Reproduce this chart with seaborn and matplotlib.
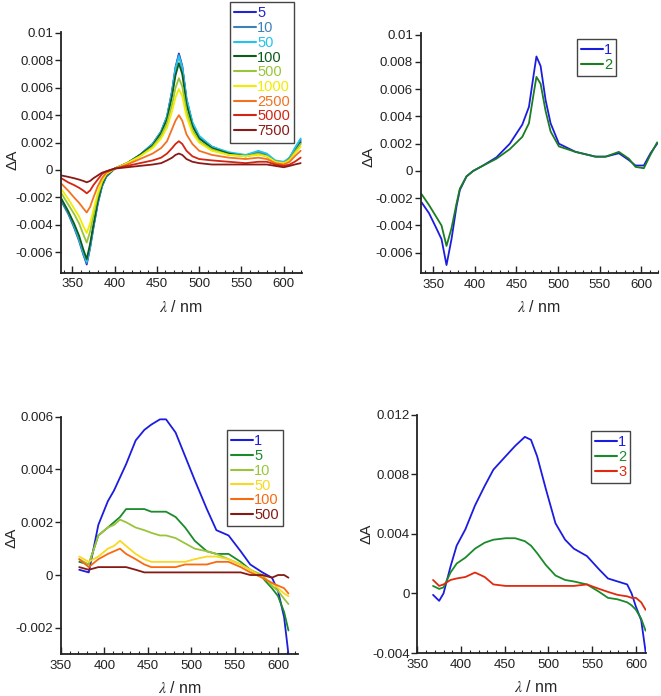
import numpy as np
import pandas as pd
import matplotlib
matplotlib.use("Agg")
import matplotlib.pyplot as plt
from matplotlib.ticker import MultipleLocator
import seaborn as sns

# ---------------- data ----------------
# Panel 1 (top-left)
wl1 = [337, 345, 352, 358, 363, 367, 371, 375, 380, 385, 390, 400, 415, 430, 445, 455, 462,
       468, 472, 476, 480, 485, 492, 500, 515, 535, 555, 570, 580, 590, 600, 607, 613, 620]
p1_labels = ["5", "10", "50", "100", "500", "1000", "2500", "5000", "7500"]
p1_colors = ["#2323d2", "#3f80b5", "#22c4ee", "#0d5c18", "#9ac53a", "#f2ec00", "#f27222", "#d42412", "#8a1a16"]
p1_5 = [-0.0022, -0.0031, -0.0041, -0.0051, -0.0061, -0.0069, -0.0057, -0.0042, -0.0025, -0.0012, -0.0005, 0.0001, 0.0005, 0.0011, 0.0019, 0.0028, 0.0039, 0.0058, 0.0075, 0.0085, 0.0076, 0.0052, 0.0034, 0.0024, 0.0017, 0.0012, 0.0010, 0.0013, 0.0011, 0.0006, 0.0005, 0.0009, 0.0015, 0.0022]
p1_10 = [-0.0023, -0.0032, -0.0042, -0.0052, -0.0062, -0.0068, -0.0056, -0.0041, -0.0024, -0.0012, -0.0005, 0.0001, 0.0005, 0.0011, 0.0019, 0.0028, 0.0039, 0.0057, 0.0074, 0.0084, 0.0075, 0.0051, 0.0034, 0.0024, 0.0017, 0.0012, 0.0010, 0.0013, 0.0011, 0.0006, 0.0005, 0.0008, 0.0014, 0.0021]
p1_50 = [-0.0021, -0.0030, -0.0040, -0.0050, -0.0060, -0.0067, -0.0056, -0.0041, -0.0024, -0.0012, -0.0004, 0.0001, 0.0005, 0.0011, 0.0019, 0.0028, 0.0039, 0.0057, 0.0074, 0.0083, 0.0075, 0.0052, 0.0035, 0.0025, 0.0017, 0.0013, 0.0011, 0.0014, 0.0012, 0.0007, 0.0006, 0.0009, 0.0016, 0.0023]
p1_100 = [-0.0021, -0.0030, -0.0039, -0.0048, -0.0058, -0.0065, -0.0054, -0.0040, -0.0023, -0.0011, -0.0004, 0.0001, 0.0005, 0.0011, 0.0018, 0.0027, 0.0037, 0.0054, 0.0069, 0.0078, 0.0070, 0.0048, 0.0032, 0.0023, 0.0016, 0.0012, 0.0010, 0.0012, 0.0010, 0.0006, 0.0005, 0.0008, 0.0013, 0.0020]
p1_500 = [-0.0017, -0.0025, -0.0032, -0.0039, -0.0047, -0.0053, -0.0045, -0.0033, -0.0019, -0.0009, -0.0003, 0.0001, 0.0005, 0.0010, 0.0017, 0.0025, 0.0034, 0.0048, 0.0060, 0.0067, 0.0061, 0.0043, 0.0029, 0.0021, 0.0015, 0.0011, 0.0010, 0.0012, 0.0010, 0.0006, 0.0005, 0.0008, 0.0013, 0.0019]
p1_1000 = [-0.0014, -0.0021, -0.0028, -0.0034, -0.0041, -0.0046, -0.0039, -0.0029, -0.0017, -0.0008, -0.0003, 0.0001, 0.0005, 0.0010, 0.0016, 0.0023, 0.0031, 0.0043, 0.0053, 0.0059, 0.0054, 0.0039, 0.0027, 0.0020, 0.0014, 0.0011, 0.0010, 0.0011, 0.0010, 0.0006, 0.0005, 0.0007, 0.0012, 0.0017]
p1_2500 = [-0.0010, -0.0015, -0.0020, -0.0024, -0.0028, -0.0031, -0.0027, -0.0020, -0.0012, -0.0006, -0.0002, 0.0001, 0.0004, 0.0008, 0.0012, 0.0016, 0.0021, 0.0030, 0.0036, 0.0040, 0.0036, 0.0026, 0.0019, 0.0014, 0.0011, 0.0009, 0.0008, 0.0009, 0.0008, 0.0005, 0.0004, 0.0006, 0.0010, 0.0014]
p1_5000 = [-0.0006, -0.0009, -0.0011, -0.0013, -0.0015, -0.0017, -0.0015, -0.0011, -0.0007, -0.0003, -0.0001, 0.0001, 0.0003, 0.0005, 0.0007, 0.0009, 0.0012, 0.0016, 0.0019, 0.0021, 0.0019, 0.0014, 0.0010, 0.0008, 0.0007, 0.0006, 0.0005, 0.0006, 0.0006, 0.0004, 0.0003, 0.0004, 0.0006, 0.0009]
p1_7500 = [-0.0004, -0.0005, -0.0006, -0.0007, -0.0008, -0.0009, -0.0008, -0.0006, -0.0004, -0.0002, -0.0001, 0.0001, 0.0002, 0.0003, 0.0004, 0.0005, 0.0007, 0.0009, 0.0011, 0.0012, 0.0011, 0.0008, 0.0006, 0.0005, 0.0004, 0.0004, 0.0004, 0.0004, 0.0004, 0.0003, 0.0002, 0.0003, 0.0004, 0.0005]
p1_series = [p1_5, p1_10, p1_50, p1_100, p1_500, p1_1000, p1_2500, p1_5000, p1_7500]

# Panel 2 (top-right)
wl2 = [336, 345, 353, 360, 366, 372, 378, 382, 390, 398, 410, 426, 442, 457, 465, 471, 474,
       479, 485, 491, 501, 521, 545, 557, 573, 585, 593, 603, 611, 619]
p2_labels = ["1", "2"]
p2_colors = ["#1c1ce0", "#1a7d22"]
p2_1 = [-0.0023, -0.0031, -0.0041, -0.0050, -0.0069, -0.0050, -0.0026, -0.0014, -0.0004, 0.0000, 0.0004, 0.0010, 0.0020, 0.0034, 0.0047, 0.0072, 0.0084, 0.0077, 0.0052, 0.0035, 0.0020, 0.0014, 0.00105, 0.00105, 0.0013, 0.0008, 0.0004, 0.0004, 0.0013, 0.0020]
p2_2 = [-0.0017, -0.0025, -0.0033, -0.0040, -0.0055, -0.0042, -0.0024, -0.0013, -0.0004, 0.0000, 0.0004, 0.0009, 0.0016, 0.0025, 0.0035, 0.0058, 0.0069, 0.0064, 0.0044, 0.0029, 0.0018, 0.0014, 0.00105, 0.00105, 0.0014, 0.0009, 0.0003, 0.0002, 0.0012, 0.0021]
p2_series = [p2_1, p2_2]

# Panel 3 (bottom-left)
wl3 = [371, 382, 393, 404, 411, 418, 425, 436, 446, 454, 464, 471, 482, 493, 504, 518, 529,
       543, 557, 568, 582, 593, 600, 607, 612]
p3_labels = ["1", "5", "10", "50", "100", "500"]
p3_colors = ["#1c1ce0", "#1a8a2a", "#9ac53a", "#f8d820", "#f86a10", "#861a12"]
p3_1 = [0.0002, 0.0001, 0.0019, 0.0028, 0.0032, 0.0037, 0.0042, 0.0051, 0.0055, 0.0057, 0.0059, 0.0059, 0.0054, 0.0045, 0.0036, 0.0025, 0.0017, 0.0015, 0.0009, 0.0004, 0.0001, -0.0001, -0.0006, -0.0016, -0.0030]
p3_5 = [0.0005, 0.0004, 0.0015, 0.0018, 0.0020, 0.0022, 0.0025, 0.0025, 0.0025, 0.0024, 0.0024, 0.0024, 0.0022, 0.0018, 0.0013, 0.0009, 0.0008, 0.0008, 0.0005, 0.0002, -0.0001, -0.0005, -0.0008, -0.0014, -0.0021]
p3_10 = [0.0006, 0.0004, 0.0015, 0.0018, 0.0019, 0.0021, 0.0020, 0.0018, 0.0017, 0.0016, 0.0015, 0.0015, 0.0014, 0.0012, 0.0010, 0.0009, 0.0008, 0.0006, 0.0004, 0.0002, 0.0000, -0.0004, -0.0006, -0.0009, -0.0011]
p3_50 = [0.0007, 0.0005, 0.0007, 0.0010, 0.0011, 0.0013, 0.0011, 0.0008, 0.0006, 0.0005, 0.0005, 0.0005, 0.0005, 0.0005, 0.0006, 0.0007, 0.0007, 0.0006, 0.0004, 0.0002, -0.0001, -0.0003, -0.0005, -0.0007, -0.0008]
p3_100 = [0.0006, 0.0003, 0.0006, 0.0008, 0.0009, 0.0010, 0.0008, 0.0006, 0.0004, 0.0003, 0.0003, 0.0003, 0.0003, 0.0004, 0.0004, 0.0004, 0.0005, 0.0005, 0.0003, 0.0001, -0.0001, -0.0003, -0.0004, -0.0005, -0.0007]
p3_500 = [0.0003, 0.0002, 0.0003, 0.0003, 0.0003, 0.0003, 0.0003, 0.0002, 0.0001, 0.0001, 0.0001, 0.0001, 0.0001, 0.0001, 0.0001, 0.0001, 0.0001, 0.0001, 0.0001, 0.0000, 0.0000, -0.0001, 0.0000, 0.0000, -0.0001]
p3_series = [p3_1, p3_5, p3_10, p3_50, p3_100, p3_500]

# Panel 4 (bottom-right)
wl4 = [368, 375, 380, 388, 395, 405, 416, 427, 437, 451, 462, 473, 480, 487, 497, 508, 519,
       529, 544, 558, 568, 579, 590, 595, 600, 606, 611]
p4_labels = ["1", "2", "3"]
p4_colors = ["#1c1ce0", "#1a8a2a", "#e02a10"]
p4_1 = [-0.0001, -0.0005, 0.0000, 0.0018, 0.0032, 0.0043, 0.0059, 0.0072, 0.0083, 0.0092, 0.0099, 0.0105, 0.0103, 0.0092, 0.0070, 0.0047, 0.0036, 0.0030, 0.0025, 0.0016, 0.0010, 0.0008, 0.0006, 0.0000, -0.0009, -0.0018, -0.0039]
p4_2 = [0.0005, 0.0003, 0.0004, 0.0014, 0.0020, 0.0024, 0.0030, 0.0034, 0.0036, 0.0037, 0.0037, 0.0035, 0.0032, 0.0027, 0.0019, 0.0012, 0.0009, 0.0008, 0.0006, 0.0001, -0.0003, -0.0004, -0.0006, -0.0008, -0.0011, -0.0017, -0.0025]
p4_3 = [0.0009, 0.0005, 0.0006, 0.0009, 0.0010, 0.0011, 0.0014, 0.0011, 0.0006, 0.0005, 0.0005, 0.0005, 0.0005, 0.0005, 0.0005, 0.0005, 0.0005, 0.0005, 0.0006, 0.0003, 0.0001, -0.0001, -0.0002, -0.0003, -0.0003, -0.0006, -0.0011]
p4_series = [p4_1, p4_2, p4_3]

yt1 = [-0.006, -0.004, -0.002, 0, 0.002, 0.004, 0.006, 0.008, 0.01]
yt3 = [-0.002, 0, 0.002, 0.004, 0.006]
yt4 = [-0.004, 0, 0.004, 0.008, 0.012]
xt = [350, 400, 450, 500, 550, 600]

# ---------------- styling ----------------
sns.set_style("ticks")
plt.rcParams["font.family"] = ["Liberation Sans", "DejaVu Sans"]
plt.rcParams["mathtext.fontset"] = "stix"

W, H = 661, 696
fig = plt.figure(figsize=(W / 100, H / 100), dpi=100)


def px_rect(left, top, right, bottom):
    return [left / W, 1 - bottom / H, (right - left) / W, (bottom - top) / H]


panels = [
    dict(rect=px_rect(61, 31.6, 302, 272.75), wl=wl1, labels=p1_labels, colors=p1_colors,
         series=p1_series, xlim=(336.6, 621.6), ylim=(-0.0075, 0.0101), yt=yt1,
         leg=(230, 2), ylab=(-0.201, 0.47), xlab=(0.497, -0.142)),
    dict(rect=px_rect(420.7, 33.3, 658, 273.2), wl=wl2, labels=p2_labels, colors=p2_colors,
         series=p2_series, xlim=(335, 620), ylim=(-0.0075, 0.0101), yt=yt1,
         leg=(577, 39), ylab=(-0.222, 0.484), xlab=(0.50, -0.141)),
    dict(rect=px_rect(61, 416.7, 298, 654.2), wl=wl3, labels=p3_labels, colors=p3_colors,
         series=p3_series, xlim=(369, 623), ylim=(-0.003, 0.006), yt=yt3,
         leg=(227, 430), ylab=(-0.207, 0.49), xlab=(0.50, -0.142)),
    dict(rect=px_rect(417.3, 414.5, 646, 653), wl=wl4, labels=p4_labels, colors=p4_colors,
         series=p4_series, xlim=(367, 611.5), ylim=(-0.004, 0.012), yt=yt4,
         leg=(591, 431), ylab=(-0.224, 0.50), xlab=(0.52, -0.142)),
]

for p in panels:
    ax = fig.add_axes(p["rect"])
    frames = []
    for lab, vals in zip(p["labels"], p["series"]):
        frames.append(pd.DataFrame({"wl": p["wl"], "dA": vals, "conc": lab}))
    df = pd.concat(frames, ignore_index=True)
    sns.lineplot(data=df, x="wl", y="dA", hue="conc", hue_order=p["labels"],
                 palette=p["colors"], ax=ax, linewidth=1.3, sort=False,
                 estimator=None, legend=True)
    ax.set_xlim(*p["xlim"])
    ax.set_ylim(*p["ylim"])
    ax.set_xticks(xt)
    ax.set_xticklabels([str(v) for v in xt])
    ax.xaxis.set_minor_locator(MultipleLocator(10))
    ax.set_yticks(p["yt"])
    ax.set_yticklabels(["%g" % v for v in p["yt"]])
    ax.tick_params(axis="x", which="major", direction="in", length=5, width=1, pad=4, labelsize=9.5, colors="#222222")
    ax.tick_params(axis="x", which="minor", direction="in", length=2.5, width=0.8)
    ax.tick_params(axis="y", which="major", direction="out", length=4, width=1, pad=1.5, labelsize=9.5, colors="#222222")
    for s in ["top", "right"]:
        ax.spines[s].set_visible(False)
    for s in ["left", "bottom"]:
        ax.spines[s].set_linewidth(1.3)
        ax.spines[s].set_color("#222222")

    ax.set_xlabel(r"$\lambda$ / nm", fontsize=11.5, va="center")
    ax.xaxis.set_label_coords(*p["xlab"])
    ax.set_ylabel("ΔA", fontsize=11, va="center")
    ax.yaxis.set_label_coords(*p["ylab"])

    lx, ly = p["leg"]
    leg = ax.legend(loc="upper left", bbox_to_anchor=(lx / W, 1 - ly / H),
                    bbox_transform=fig.transFigure, frameon=True, fancybox=False,
                    framealpha=1, edgecolor="#444444", fontsize=10.5, labelspacing=0.05,
                    handlelength=1.5, handletextpad=0.05, borderpad=0.3,
                    borderaxespad=0, title=None)
    leg.get_frame().set_linewidth(1.0)
    for t, ln in zip(leg.get_texts(), leg.get_lines()):
        t.set_color(ln.get_color())
        ln.set_linewidth(1.5)

fig.savefig("out.png", dpi=100)
